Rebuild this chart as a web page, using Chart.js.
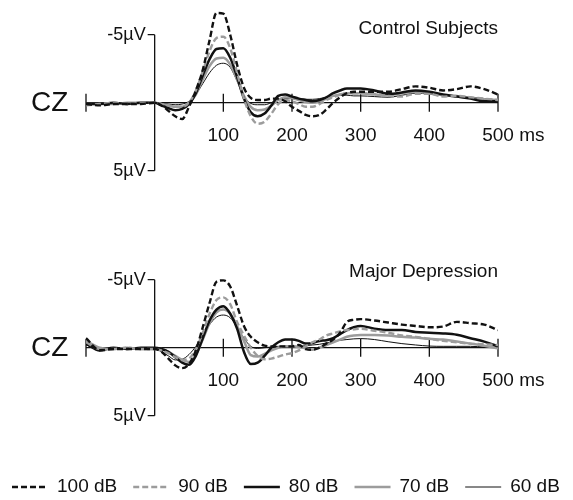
<!DOCTYPE html>
<html>
<head>
<meta charset="utf-8">
<script src="https://cdn.jsdelivr.net/npm/chart.js@4.4.0/dist/chart.umd.min.js"></script>
<style>
html, body { margin: 0; padding: 0; background: #fff; }
#wrap { width: 573px; height: 500px; position: relative; }
.panel { position: absolute; left: 0; width: 573px; }
</style>
</head>
<body>
<div id="wrap">
    <div class="panel" style="top:0;height:245px"><canvas id="control"></canvas></div>
    <div class="panel" style="top:245px;height:255px"><canvas id="depression"></canvas></div>
</div>
<script>
// time points (ms)
var times = [-100, -80, -60, -40, -20,
    0, 10, 20, 30, 40, 50, 60, 70, 80, 90,
    100, 110, 120, 130, 140, 150, 160, 170, 180, 190,
    200, 210, 220, 230, 240, 250, 260, 270, 280, 290,
    300,
    320, 340, 360, 380, 400, 420, 440, 460, 480, 500];

var levels = ['100 dB', '90 dB', '80 dB', '70 dB', '60 dB'];
var xTicks = [100, 200, 300, 400, 500];
var yTicks = [-5, 5];

// Control subjects (µV, negative up)
var control100 = [0.1, 0.2, 0.1, 0.1, 0.1,
    0.0, 0.2, 0.6, 1.0, 1.2, 0.3, -0.9, -2.4, -4.6, -6.6,
    -6.55, -5.0, -2.8, -1.1, -0.35, -0.2, -0.2, -0.3, -0.3, -0.1,
    0.3, 0.6, 0.9, 1.0, 0.9, 0.5, 0.0, -0.4, -0.7, -0.8,
    -0.8,
    -0.8, -0.8, -1.0, -1.2, -1.1, -0.9, -1.0, -1.2, -1.0, -0.6];
var control90 = [0.2, 0.1, 0.0, 0.1, 0.0,
    0.0, 0.1, 0.2, 0.3, 0.3, 0.0, -0.9, -2.3, -3.8, -4.75,
    -4.85, -4.0, -2.2, -0.3, 1.0, 1.55, 1.4, 0.8, 0.1, -0.2,
    -0.1, 0.1, 0.3, 0.3, 0.1, -0.2, -0.4, -0.6, -0.7, -0.7,
    -0.7,
    -0.65, -0.5, -0.45, -0.65, -0.65, -0.45, -0.5, -0.4, -0.3, -0.2];
var control80 = [0.1, 0.1, 0.0, 0.1, 0.0,
    0.0, 0.2, 0.4, 0.55, 0.45, 0.1, -0.7, -2.0, -3.2, -3.95,
    -4.0, -3.3, -1.9, -0.3, 0.7, 1.0, 0.8, 0.2, -0.5, -0.6,
    -0.45, -0.3, -0.2, -0.1, -0.2, -0.4, -0.7, -0.9, -1.05, -1.05,
    -1.05,
    -0.9, -0.65, -0.75, -0.9, -0.8, -0.6, -0.45, -0.3, -0.1, -0.1];
var control70 = [0.1, 0.1, 0.1, 0.0, 0.0,
    0.0, 0.1, 0.2, 0.3, 0.3, 0.0, -0.6, -1.7, -2.7, -3.25,
    -3.3, -2.8, -1.7, -0.5, 0.3, 0.55, 0.5, 0.2, -0.2, -0.4,
    -0.35, -0.2, -0.05, 0.0, -0.1, -0.3, -0.5, -0.6, -0.7, -0.7,
    -0.7,
    -0.6, -0.55, -0.7, -0.8, -0.7, -0.55, -0.5, -0.35, -0.25, -0.2];
var control60 = [0.0, 0.1, 0.1, 0.0, 0.0,
    0.0, 0.05, 0.1, 0.15, 0.1, -0.1, -0.6, -1.4, -2.2, -2.75,
    -2.9, -2.6, -1.6, -0.5, 0.05, 0.15, 0.15, 0.0, -0.2, -0.3,
    -0.3, -0.25, -0.25, -0.25, -0.3, -0.4, -0.5, -0.55, -0.55, -0.5,
    -0.5,
    -0.45, -0.4, -0.55, -0.7, -0.65, -0.5, -0.45, -0.4, -0.3, -0.2];

// Major depression
var depress100 = [-0.7, 0.2, 0.1, 0.1, 0.1,
    0.1, 0.3, 0.8, 1.3, 1.5, 1.2, 0.2, -1.5, -3.3, -4.85,
    -4.95, -4.5, -3.1, -1.6, -0.8, -0.4, -0.15, -0.1, -0.1, -0.1,
    -0.1, -0.2, 0.1, 0.15, 0.0, -0.3, -0.6, -1.1, -1.9, -2.05,
    -2.1,
    -2.0, -1.85, -1.7, -1.6, -1.5, -1.55, -1.9, -1.8, -1.7, -1.3];
var depress90 = [-0.4, 0.1, 0.1, 0.0, 0.1,
    0.1, 0.2, 0.4, 0.7, 0.9, 0.8, 0.1, -1.1, -2.5, -3.5,
    -3.7, -3.2, -1.9, -0.9, 0.0, 0.6, 0.85, 0.8, 0.65, 0.5,
    0.4, 0.2, -0.1, -0.4, -0.6, -0.9, -1.05, -1.2, -1.3, -1.35,
    -1.4,
    -1.25, -1.1, -0.9, -0.8, -0.65, -0.5, -0.4, -0.3, -0.25, -0.2];
var depress80 = [-0.3, 0.2, 0.0, 0.1, 0.0,
    0.0, 0.1, 0.3, 0.7, 1.1, 1.25, 0.6, -0.7, -2.0, -2.8,
    -3.05, -2.5, -1.4, 0.3, 1.2, 1.1, 0.6, 0.0, -0.4, -0.6,
    -0.6, -0.5, -0.3, -0.35, -0.5, -0.55, -0.7, -1.0, -1.3, -1.5,
    -1.6,
    -1.4, -1.3, -1.3, -1.15, -1.1, -1.05, -0.95, -0.7, -0.45, -0.1];
var depress70 = [-0.5, 0.0, 0.1, 0.0, 0.1,
    0.1, 0.1, 0.3, 0.6, 0.9, 1.05, 0.5, -0.6, -1.8, -2.6,
    -2.8, -2.5, -1.6, -0.5, 0.55, 0.65, 0.45, 0.2, 0.0, -0.1,
    -0.1, -0.05, 0.05, 0.15, 0.0, -0.2, -0.4, -0.6, -0.8, -0.9,
    -0.93,
    -0.93, -0.9, -0.8, -0.75, -0.65, -0.6, -0.45, -0.3, -0.15, 0.05];
var depress60 = [-0.2, 0.1, 0.0, 0.0, 0.1,
    0.1, 0.3, 0.6, 0.9, 0.85, 0.5, -0.1, -0.9, -1.7, -2.25,
    -2.4, -2.2, -1.5, -0.7, -0.1, 0.05, 0.0, -0.05, -0.1, -0.1,
    -0.1, -0.1, -0.15, -0.2, -0.25, -0.35, -0.45, -0.55, -0.6, -0.65,
    -0.67,
    -0.6, -0.44, -0.3, -0.2, -0.12, -0.1, -0.1, -0.1, -0.05, 0.0];

var FONT = '"Liberation Sans", Arial, Helvetica, sans-serif';
var INK = '#111';
var GRAY = '#9c9c9c';

var styles = [
    {color: INK, width: 2.4, dash: [6, 3]},
    {color: GRAY, width: 2.4, dash: [6, 3]},
    {color: INK, width: 2.5, dash: []},
    {color: GRAY, width: 2.5, dash: []},
    {color: INK, width: 1, dash: []}
];

function makeDatasets(series) {
    return series.map(function (vals, i) {
        return {
            label: levels[i],
            data: times.map(function (t, k) { return {x: t, y: vals[k]}; }),
            borderColor: styles[i].color,
            borderWidth: styles[i].width,
            borderDash: styles[i].dash,
            pointRadius: 0,
            fill: false,
            cubicInterpolationMode: 'monotone'
        };
    });
}

var erpAxes = {
    id: 'erpAxes',
    beforeDatasetsDraw: function (chart) {
        var ctx = chart.ctx;
        var xs = chart.scales.x, ys = chart.scales.y;
        var y0 = ys.getPixelForValue(0);
        var x0 = xs.getPixelForValue(0);
        ctx.save();
        ctx.strokeStyle = INK;
        ctx.lineWidth = 1.3;
        ctx.beginPath();
        // baseline
        ctx.moveTo(xs.getPixelForValue(-100), y0);
        ctx.lineTo(xs.getPixelForValue(500), y0);
        // time ticks
        [-100].concat(xTicks).forEach(function (t) {
            var x = xs.getPixelForValue(t);
            ctx.moveTo(x, y0 - 9);
            ctx.lineTo(x, y0 + 9);
        });
        // amplitude axis
        ctx.moveTo(x0, ys.getPixelForValue(yTicks[0]));
        ctx.lineTo(x0, ys.getPixelForValue(yTicks[1]));
        yTicks.forEach(function (v) {
            var y = ys.getPixelForValue(v);
            ctx.moveTo(x0 - 7, y);
            ctx.lineTo(x0, y);
        });
        ctx.stroke();
        ctx.restore();
    },
    afterDraw: function (chart, args, opts) {
        var ctx = chart.ctx;
        var xs = chart.scales.x, ys = chart.scales.y;
        var y0 = ys.getPixelForValue(0);
        var x0 = xs.getPixelForValue(0);
        ctx.save();
        ctx.fillStyle = INK;

        ctx.font = '18px ' + FONT;
        ctx.textAlign = 'right';
        ctx.textBaseline = 'middle';
        yTicks.forEach(function (v) {
            ctx.fillText(v + 'µV', x0 - 9, ys.getPixelForValue(v));
        });

        ctx.font = '19px ' + FONT;
        ctx.textBaseline = 'alphabetic';
        xTicks.forEach(function (t) {
            var x = xs.getPixelForValue(t);
            if (t === 500) {
                ctx.textAlign = 'left';
                ctx.fillText(t + ' ms', x - ctx.measureText(String(t)).width / 2, y0 + 38);
            } else {
                ctx.textAlign = 'center';
                ctx.fillText(String(t), x, y0 + 38);
            }
        });

        ctx.font = '28px ' + FONT;
        ctx.textAlign = 'left';
        ctx.textBaseline = 'middle';
        ctx.fillText('CZ', 31, y0 + 1);

        ctx.font = '19px ' + FONT;
        ctx.textAlign = 'right';
        ctx.fillText(opts.title, xs.getPixelForValue(500), y0 + opts.titleDy);

        if (opts.legend) {
            var x = 12, ly = opts.legendY;
            ctx.textAlign = 'left';
            chart.data.datasets.forEach(function (ds) {
                ctx.save();
                ctx.strokeStyle = ds.borderColor;
                ctx.lineWidth = ds.borderWidth;
                ctx.setLineDash(ds.borderDash);
                ctx.beginPath();
                ctx.moveTo(x, ly);
                ctx.lineTo(x + 36, ly);
                ctx.stroke();
                ctx.restore();
                x += 45;
                ctx.fillText(ds.label, x, ly);
                x += ctx.measureText(ds.label).width + 16;
            });
        }
        ctx.restore();
    }
};

function makeChart(id, series, title, titleDy, bottomPad, legend) {
    return new Chart(document.getElementById(id), {
        type: 'line',
        data: {datasets: makeDatasets(series)},
        plugins: [erpAxes],
        options: {
            responsive: true,
            maintainAspectRatio: false,
            animation: false,
            layout: {padding: {left: 86, right: 75, top: 0.7, bottom: bottomPad}},
            scales: {
                x: {type: 'linear', min: -100, max: 500, display: false},
                y: {type: 'linear', min: -7.5, max: 7.5, reverse: true, display: false}
            },
            plugins: {
                legend: {display: false},
                tooltip: {enabled: false},
                erpAxes: {title: title, titleDy: titleDy, legend: legend, legendY: 242}
            }
        }
    });
}

makeChart('control', [control100, control90, control80, control70, control60],
    'Control Subjects', -74, 40.3, false);
makeChart('depression', [depress100, depress90, depress80, depress70, depress60],
    'Major Depression', -76, 50.3, true);
</script>
</body>
</html>
